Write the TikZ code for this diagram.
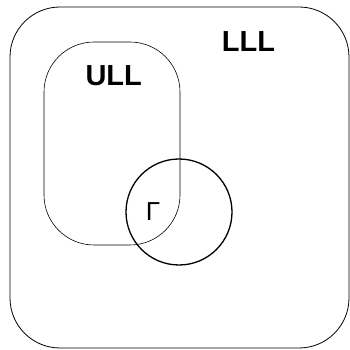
\documentclass[tikz,border=0pt]{standalone}
\usepackage{fontspec}
\setmainfont{Liberation Sans}
\begin{document}
\begin{tikzpicture}[x=1pt,y=1pt,
  setbox/.style={draw=black,rounded corners=50pt},
  setlabel/.style={inner sep=0pt,font=\fontsize{29}{29}\selectfont\bfseries}]
\useasboundingbox (0,0) rectangle (350,350);
% outer set
\draw[setbox,line width=0.8pt] (10,2) rectangle (349,343);
% inner set
\draw[setbox,line width=0.6pt] (44,105) rectangle (180,308);
% curve
\node[draw,circle,line width=1.3pt,minimum size=106pt,inner sep=0pt] (gc) at (179,138) {};
\node[setlabel] (lll) at (248.5,308.5) {LLL};
\node[setlabel] (ull) at (113.7,274.7) {ULL};
\node[inner sep=0pt,font=\fontsize{26}{26}\selectfont] (g) at (153,138.5) {Γ};
\end{tikzpicture}
\end{document}
